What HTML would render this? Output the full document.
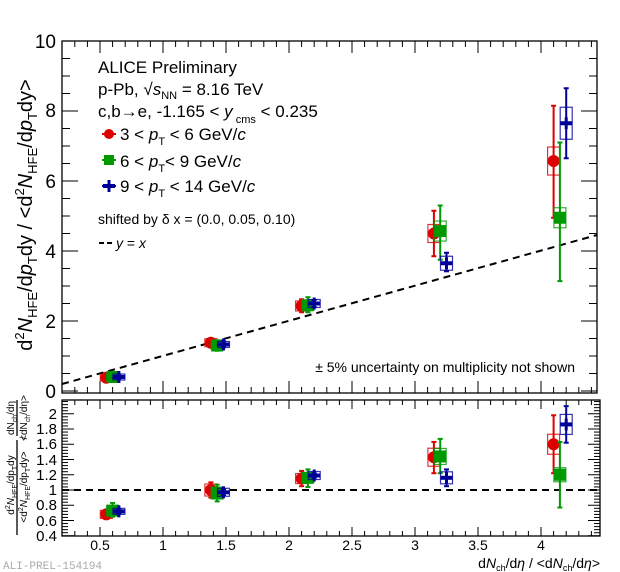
<!DOCTYPE html>
<html><head><meta charset="utf-8"><style>
body{margin:0;background:#fff}
svg{display:block;font-family:"Liberation Sans",sans-serif}
</style></head><body>
<svg id="s" width="620" height="572" viewBox="0 0 620 572">
<rect width="620" height="572" fill="#fff"/>
<g id="ticks" stroke="#000" stroke-width="1"></g>
<rect x="62" y="41" width="535" height="352" fill="none" stroke="#000" stroke-width="1.3"/>
<rect x="62" y="400" width="538" height="136" fill="none" stroke="#000" stroke-width="1.3"/>
<g font-size="19" text-anchor="end">
<text x="56" y="48">10</text><text x="56" y="117">8</text><text x="56" y="188">6</text>
<text x="56" y="258">4</text><text x="56" y="328">2</text><text x="56" y="398">0</text>
</g>
<g font-size="15" text-anchor="end">
<text x="57" y="419">2</text><text x="57" y="434">1.8</text><text x="57" y="449">1.6</text>
<text x="57" y="465">1.4</text><text x="57" y="480">1.2</text><text x="57" y="495">1</text>
<text x="57" y="510">0.8</text><text x="57" y="526">0.6</text><text x="57" y="541">0.4</text>
</g>
<g font-size="14" text-anchor="middle">
<text x="100" y="550">0.5</text><text x="163" y="550">1</text><text x="226" y="550">1.5</text>
<text x="289" y="550">2</text><text x="352" y="550">2.5</text><text x="415" y="550">3</text>
<text x="478" y="550">3.5</text><text x="541" y="550">4</text>
</g>
<text x="600" y="568" font-size="14" text-anchor="end">d<tspan font-style="italic">N</tspan><tspan font-size="9" dy="3">ch</tspan><tspan dy="-3">/d</tspan><tspan font-style="italic">η</tspan> / &lt;d<tspan font-style="italic">N</tspan><tspan font-size="9" dy="3">ch</tspan><tspan dy="-3">/d</tspan><tspan font-style="italic">η</tspan>&gt;</text>
<text x="3" y="569" font-size="11" fill="#aaa" font-family="Liberation Mono,monospace">ALI-PREL-154194</text>
<text transform="translate(32,215) rotate(-90)" font-size="20" text-anchor="middle">d<tspan font-size="13" dy="-8">2</tspan><tspan font-style="italic" dy="8">N</tspan><tspan font-size="13" dy="5">HFE</tspan><tspan dy="-5">/d</tspan><tspan font-style="italic">p</tspan><tspan font-size="13" dy="5">T</tspan><tspan dy="-5">dy  /  &lt;d</tspan><tspan font-size="13" dy="-8">2</tspan><tspan font-style="italic" dy="8">N</tspan><tspan font-size="13" dy="5">HFE</tspan><tspan dy="-5">/d</tspan><tspan font-style="italic">p</tspan><tspan font-size="13" dy="5">T</tspan><tspan dy="-5">dy&gt;</tspan></text>
<g font-size="10" text-anchor="middle">
<text transform="translate(14,485) rotate(-90)">d<tspan font-size="7" dy="-4">2</tspan><tspan font-style="italic" dy="4">N</tspan><tspan font-size="7" dy="3">HFE</tspan><tspan dy="-3">/dp</tspan><tspan font-size="7" dy="3">T</tspan><tspan dy="-3">dy</tspan></text>
<line x1="17" y1="440" x2="17" y2="535" stroke="#000" stroke-width="1.3"/>
<text transform="translate(27,487) rotate(-90)">&lt;d<tspan font-size="7" dy="-4">2</tspan><tspan font-style="italic" dy="4">N</tspan><tspan font-size="7" dy="3">HFE</tspan><tspan dy="-3">/dp</tspan><tspan font-size="7" dy="3">T</tspan><tspan dy="-3">dy&gt;</tspan></text>
<text transform="translate(27,438) rotate(-90)">/</text>
<text transform="translate(14,418) rotate(-90)">dN<tspan font-size="7" dy="3">ch</tspan><tspan dy="-3">/dη</tspan></text>
<line x1="17" y1="400" x2="17" y2="436" stroke="#000" stroke-width="1.3"/>
<text transform="translate(27,418) rotate(-90)">&lt;dN<tspan font-size="7" dy="3">ch</tspan><tspan dy="-3">/dη&gt;</tspan></text>
</g>
<g font-size="17">
<text x="98" y="73">ALICE Preliminary</text>
<text x="98" y="95">p-Pb, <tspan>√</tspan><tspan font-style="italic">s</tspan><tspan font-size="11" dy="4">NN</tspan><tspan dy="-4"> = 8.16 TeV</tspan></text>
<text x="98" y="117">c,b→e, -1.165 &lt; <tspan font-style="italic">y</tspan><tspan font-size="11" dy="6"> cms</tspan><tspan dy="-6"> &lt; 0.235</tspan></text>
<text x="120" y="140">3 &lt; <tspan font-style="italic">p</tspan><tspan font-size="11" dy="5">T</tspan><tspan dy="-5"> &lt; 6 GeV/</tspan><tspan font-style="italic">c</tspan></text>
<text x="120" y="167">6 &lt; <tspan font-style="italic">p</tspan><tspan font-size="11" dy="5">T</tspan><tspan dy="-5">&lt; 9 GeV/</tspan><tspan font-style="italic">c</tspan></text>
<text x="120" y="192">9 &lt; <tspan font-style="italic">p</tspan><tspan font-size="11" dy="5">T</tspan><tspan dy="-5"> &lt; 14 GeV/</tspan><tspan font-style="italic">c</tspan></text>
<text x="98" y="224" font-size="14">shifted by δ x = (0.0, 0.05, 0.10)</text>
<text x="116" y="248" font-size="14"><tspan font-style="italic">y</tspan> = <tspan font-style="italic">x</tspan></text>
<text x="575" y="372" font-size="14" text-anchor="end">± 5% uncertainty on multiplicity not shown</text>
</g>
<line x1="99" y1="243" x2="114" y2="243" stroke="#000" stroke-width="2" stroke-dasharray="5,3"/>
<line x1="102" y1="134" x2="116" y2="134" stroke="#d00" stroke-width="2"/><circle cx="109" cy="134" r="5" fill="#d00"/>
<line x1="102" y1="160" x2="116" y2="160" stroke="#090" stroke-width="2"/><rect x="104" y="155" width="10" height="10" fill="#090"/>
<line x1="102" y1="186" x2="116" y2="186" stroke="#009" stroke-width="2"/><line x1="109" y1="180" x2="109" y2="192" stroke="#009" stroke-width="3"/><line x1="103" y1="186" x2="115" y2="186" stroke="#009" stroke-width="4"/>
<line x1="62" y1="384" x2="597" y2="235" stroke="#000" stroke-width="2" stroke-dasharray="7,5"/>
<line x1="62" y1="490" x2="600" y2="490" stroke="#000" stroke-width="2" stroke-dasharray="7,5"/>
<g id="pts"></g>
</svg>
<script>
(function(){
var NS="http://www.w3.org/2000/svg";
function el(p,t,a){var e=document.createElementNS(NS,t);for(var k in a)e.setAttribute(k,a[k]);p.appendChild(e);return e;}
var T=document.getElementById('ticks');
var X=function(x){return 163+(x-1)*126;};
var YT=function(y){return 391-y*35;};
var YB=function(r){return 490-(r-1)*76.25;};
var v,y,x,maj,l;
for(var i=0;i<=20;i++){v=i*0.5;maj=(i%4===0);l=maj?16:8;y=YT(v);
el(T,'line',{x1:62,y1:y,x2:62+l,y2:y});el(T,'line',{x1:597,y1:y,x2:597-l,y2:y});}
for(var j=0;j<=42;j++){v=0.3+j*0.1;maj=(Math.abs(v*2-Math.round(v*2))<1e-6);l=maj?12:6;x=X(v);
if(x<62||x>597)continue;
el(T,'line',{x1:x,y1:393,x2:x,y2:393-l});el(T,'line',{x1:x,y1:41,x2:x,y2:41+l});
el(T,'line',{x1:x,y1:536,x2:x,y2:536-(maj?9:5)});el(T,'line',{x1:x,y1:400,x2:x,y2:400+(maj?9:5)});}
for(var k=0;k<=44;k++){v=0.4+k*0.04;maj=(k%5===0);l=maj?12:6;y=YB(v);
if(y<400)continue;
el(T,'line',{x1:62,y1:y,x2:62+l,y2:y});el(T,'line',{x1:600,y1:y,x2:600-l,y2:y});}
var P=document.getElementById('pts');
var cols=['#d00','#090','#009'];
var topData=[
[[0.55,0.38,0.28,0.48,3],[1.38,1.38,1.28,1.5,4],[2.1,2.43,2.25,2.62,5],[3.15,4.5,3.85,5.15,9],[4.1,6.57,4.95,8.15,14]],
[[0.6,0.4,0.3,0.5,3],[1.43,1.3,1.15,1.45,4],[2.15,2.45,2.25,2.68,5],[3.2,4.57,3.75,5.3,10],[4.15,4.95,3.14,7.1,10]],
[[0.65,0.4,0.35,0.45,3],[1.48,1.33,1.25,1.42,3],[2.2,2.5,2.4,2.6,4],[3.25,3.65,3.42,3.95,7],[4.2,7.65,6.65,8.65,16]]];
var botData=[
[[0.55,0.68,0.62,0.74,4],[1.38,1.0,0.9,1.1,6],[2.1,1.15,1.05,1.25,5],[3.15,1.43,1.22,1.63,9],[4.1,1.6,1.22,1.98,10]],
[[0.6,0.73,0.65,0.83,5],[1.43,0.96,0.85,1.07,6],[2.15,1.16,1.04,1.27,5],[3.2,1.44,1.22,1.67,8],[4.15,1.2,0.77,1.63,7]],
[[0.65,0.72,0.69,0.75,3],[1.48,0.97,0.93,1.01,4],[2.2,1.19,1.16,1.22,4],[3.25,1.16,1.05,1.27,6],[4.2,1.86,1.62,2.1,10]]];
function draw(data,Y,clip){
data.forEach(function(s,i){var c=cols[i];s.forEach(function(d){var x=X(d[0]),y=Y(d[1]),bh=d[4];
var lo=Math.min(Y(d[2]),clip);
el(P,'rect',{x:x-6,y:y-bh,width:12,height:2*bh,fill:'none',stroke:c,'stroke-width':1.2,opacity:0.8});
el(P,'line',{x1:x,y1:Y(d[3]),x2:x,y2:lo,stroke:c,'stroke-width':2});
el(P,'line',{x1:x-2.5,y1:Y(d[3]),x2:x+2.5,y2:Y(d[3]),stroke:c,'stroke-width':2});
el(P,'line',{x1:x-2.5,y1:lo,x2:x+2.5,y2:lo,stroke:c,'stroke-width':2});
if(i==0)el(P,'circle',{cx:x,cy:y,r:6,fill:c});
else if(i==1)el(P,'rect',{x:x-6,y:y-6,width:12,height:12,fill:c});
else{el(P,'line',{x1:x-6,y1:y,x2:x+6,y2:y,stroke:c,'stroke-width':4});el(P,'line',{x1:x,y1:y-6,x2:x,y2:y+6,stroke:c,'stroke-width':3});}
});});}
draw(topData,YT,391);
draw(botData,YB,535);
})();
</script>
</body></html>
